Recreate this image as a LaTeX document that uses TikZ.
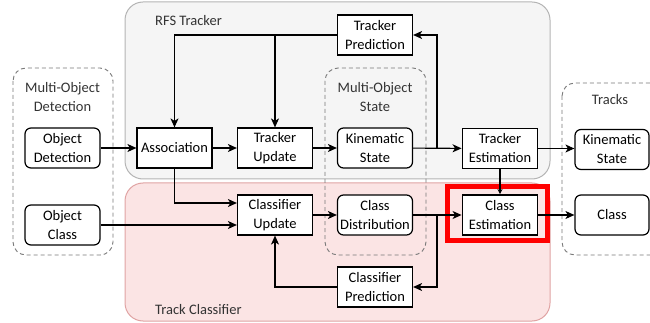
\documentclass[tikz,border=0pt]{standalone}
\usepackage{fontspec}
\setmainfont{Carlito}
\usetikzlibrary{arrows.meta}
\definecolor{trkfill}{RGB}{245,245,245}
\definecolor{trkline}{RGB}{180,180,180}
\definecolor{clsfill}{RGB}{251,228,228}
\definecolor{clsline}{RGB}{224,163,163}
\definecolor{dashgray}{RGB}{120,120,120}
\definecolor{labelgray}{RGB}{51,51,51}
\definecolor{hlred}{RGB}{255,0,0}
\begin{document}
\begin{tikzpicture}[x=1pt,y=-1pt,
  every node/.style={font=\fontsize{14.5}{19}\selectfont, align=center},
  blk/.style={draw, line width=1.2pt, fill=white, minimum width=75pt,
              minimum height=40pt, inner sep=0pt},
  rblk/.style={blk, rounded corners=6pt},
  est/.style={blk, line width=1.9pt},
  grp/.style={draw=dashgray, line width=0.9pt, dash pattern=on 4pt off 3pt,
              rounded corners=13pt},
  lbl/.style={text=labelgray, inner sep=0pt},
  arr/.style={line width=1.1pt, -{Stealth[length=9pt,width=8pt,inset=2.5pt]}},
  sarr/.style={line width=1.1pt, -{Stealth[length=5pt,width=5pt,inset=1.5pt]}}]
\useasboundingbox (0,0) rectangle (650,323);

% containers
\draw[draw=trkline, fill=trkfill, line width=1pt, rounded corners=18pt]
  (125,2) rectangle (550,179);
\draw[draw=clsline, fill=clsfill, line width=1pt, rounded corners=18pt]
  (125,183) rectangle (550,321);
\node[lbl, anchor=west] (rfslbl) at (155,21) {RFS Tracker};
\node[lbl, anchor=west] (tclbl) at (155,310) {Track Classifier};

% dashed groups
\draw[grp] (13,68) rectangle (113,255);
\draw[grp] (325,68) rectangle (426,255);
\draw[grp] (562,83) rectangle (680,255);
\node[lbl] (modlbl) at (62.5,97) {Multi-Object\\Detection};
\node[lbl] (moslbl) at (375,97) {Multi-Object\\State};
\node[lbl] (trklbl) at (610,100) {Tracks};

% blocks
\node[rblk] (objdet) at (62.5,148) {Object\\Detection};
\node[rblk] (objcls) at (62.5,225) {Object\\Class};
\node[blk]  (assoc)  at (174.5,148) {Association};
\node[blk]  (trupd)  at (275,148) {Tracker\\Update};
\node[blk]  (trpred) at (375,35) {Tracker\\Prediction};
\node[rblk] (kin)    at (375,148) {Kinematic\\State};
\node[est]  (trest)  at (500,148.5) {Tracker\\Estimation};
\node[rblk, minimum width=74pt] (kinout) at (612,149.5) {Kinematic\\State};
\node[blk]  (clsupd) at (275,215) {Classifier\\Update};
\node[rblk] (clsdist) at (375,215) {Class\\Distribution};
\node[est]  (clsest) at (500,215) {Class\\Estimation};
\node[rblk, minimum width=74pt] (clsout) at (612,215) {Class};
\node[blk]  (clspred) at (375,287) {Classifier\\Prediction};

% highlight frame
\draw[hlred, line width=5pt] (447.5,186.5) rectangle (547.5,240.5);

% tracker chain
\coordinate (kbr) at (437,148);
\coordinate (cbr) at (437,215);
\draw[arr] (objdet) -- (assoc);
\draw[arr] (assoc) -- (trupd);
\draw[arr] (trupd) -- (kin);
\draw[arr] (kin) -- (trest);
\draw[arr] (kbr) |- (trpred.east);
\draw[arr] (trpred.west) -| (assoc.north);
\draw[arr] (trupd.north |- trpred.west) -- (trupd.north);
\draw[arr] (trest.east) -- (kinout.west |- trest.east);
\draw[sarr] (trest.south) -- (clsest.north);

% classifier chain
\draw[arr] (assoc.south) |- ([yshift=12pt]clsupd.west);
\draw[arr] (objcls.east) -- (clsupd.west |- objcls.east);
\draw[arr] (clsupd) -- (clsdist);
\draw[arr] (clsdist) -- (clsest);
\draw[arr] (cbr) |- (clspred.east);
\draw[arr] (clspred.west) -| (clsupd.south);
\draw[arr] (clsest.east) -- (clsout.west);
\end{tikzpicture}
\end{document}
